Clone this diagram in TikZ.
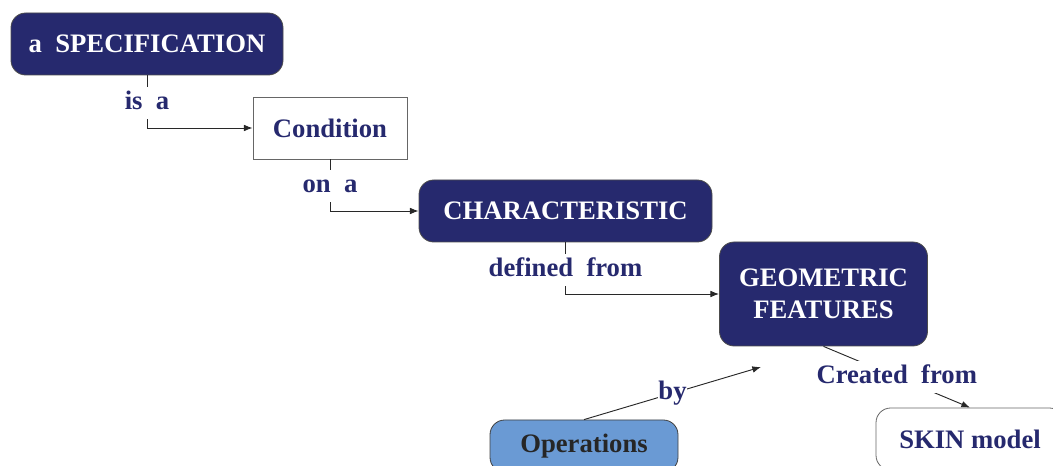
\documentclass[tikz,border=0pt]{standalone}
\usepackage{fontspec}
\setmainfont{Liberation Serif}
\usetikzlibrary{arrows.meta}
\definecolor{navy}{RGB}{38,41,110}
\definecolor{opblue}{RGB}{106,154,212}
\definecolor{edge}{RGB}{40,40,40}
\tikzset{
  base/.style={font=\fontsize{20}{24}\selectfont\bfseries, align=center, inner sep=0pt, anchor=center},
  navybox/.style={base, rounded corners=11pt, fill=navy, draw=black!70, line width=0.6pt, text=white},
  plainbox/.style={base, fill=white, draw=black!60, line width=0.6pt, text=navy},
  conn/.style={draw=edge, line width=0.7pt, -{Latex[length=6.5pt,width=5pt]}},
  lab/.style={font=\fontsize{20}{24}\selectfont\bfseries, text=navy, fill=white, inner xsep=0.5pt, inner ysep=3pt, text height=14pt, text depth=4pt}
}
\begin{document}
\begin{tikzpicture}[x=0.75pt,y=-0.75pt]
\useasboundingbox (0,0) rectangle (1053,466);
\clip (0,0) rectangle (1053,466);
\node[navybox, minimum width=204pt, minimum height=46.5pt] (spec) at (147,44) {a\ \ SPECIFICATION};
\node[plainbox, minimum width=115.5pt, minimum height=46.5pt] (cond) at (330,128) {Condition};
\node[navybox, minimum width=219.75pt, minimum height=46.5pt] (char) at (565.5,211) {CHARACTERISTIC};
\node[navybox, minimum width=156pt, minimum height=78pt] (geom) at (823.5,294) {GEOMETRIC\\FEATURES};
\node[base, rounded corners=11pt, fill=opblue, draw=black!75, line width=0.6pt, text=black!85, minimum width=141pt, minimum height=39pt] (ops) at (584,446) {Operations};
\node[plainbox, rounded corners=11pt, minimum width=141pt, minimum height=46.5pt] (skin) at (970,439) {SKIN model};
\coordinate (byend) at (761,367);

\draw[conn] (spec.south) |- (cond.west) node[lab, pos=0.26] {is\ \ a};
\draw[conn] (cond.south) |- (char.west) node[lab, pos=0.26] {on\ \ a};
\draw[conn] (char.south) |- (geom.west) node[lab, pos=0.265] {defined\ \ from};
\draw[conn] (ops.north) -- (byend) node[lab, pos=0.5] {by};
\draw[conn] (geom.south) -- (skin.north) node[lab, pos=0.5] {Created\ \ from};
\end{tikzpicture}
\end{document}
